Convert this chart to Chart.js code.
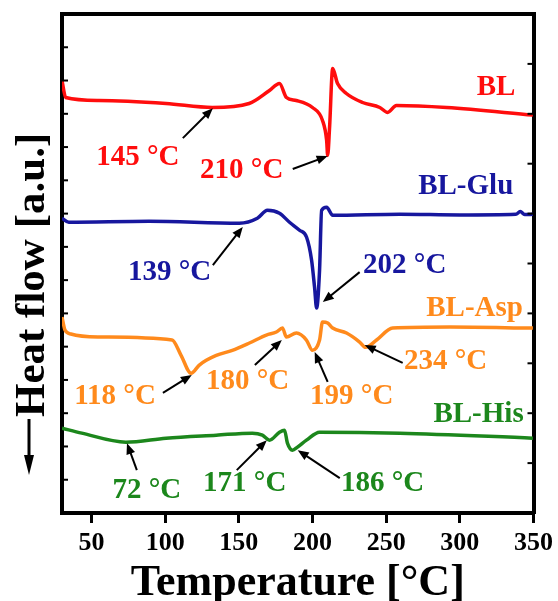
<!DOCTYPE html>
<html>
<head>
<meta charset="utf-8">
<script src="https://cdn.jsdelivr.net/npm/chart.js@4.4.0/dist/chart.umd.min.js"></script>
<style>
  body { margin: 0; background: #fff; }
</style>
</head>
<body>
<canvas id="myChart" width="558" height="601"></canvas>
<script>
// DSC curves, temperature in °C, heat flow in a.u. (curves stacked with offsets)
var blTemp = [30, 32.5, 55, 100.6, 132, 157, 170.8, 177.6, 182.3, 189, 200, 206.8, 209.6, 210.3, 211.6, 213.7, 217, 223, 234, 245.7, 251, 257, 291, 349.6];
var blFlow = [13.0, 12.49, 12.40, 12.31, 12.19, 12.31, 12.70, 12.91, 12.49, 12.40, 12.19, 11.80, 11.20, 10.75, 11.59, 13.36, 12.91, 12.61, 12.34, 12.19, 12.04, 12.25, 12.19, 11.96];

var gluTemp = [30, 34.6, 89, 150.3, 162.6, 169.4, 177.6, 184.4, 191.2, 196, 199.4, 201.4, 202.8, 204.8, 206.2, 209.6, 213.7, 259.3, 300, 338, 341, 344, 349.6];
var gluFlow = [8.86, 8.74, 8.77, 8.71, 8.86, 9.10, 9.01, 8.74, 8.50, 8.29, 7.60, 6.79, 6.16, 7.30, 9.10, 9.19, 8.95, 8.98, 8.96, 8.98, 9.06, 8.97, 8.98];

var aspTemp = [30, 32, 36, 55, 104.7, 110.8, 117.6, 123, 127.9, 134.7, 145.6, 157.2, 168.7, 175.5, 179.6, 182.3, 189.1, 195.9, 200, 204.8, 206.8, 210.3, 213.7, 223.1, 232, 236, 243.5, 254.4, 293.3, 349.6];
var aspFlow = [5.89, 5.50, 5.38, 5.29, 5.20, 4.74, 4.20, 4.44, 4.59, 4.74, 4.89, 5.11, 5.35, 5.44, 5.56, 5.29, 5.41, 5.20, 4.89, 5.20, 5.74, 5.71, 5.56, 5.41, 5.14, 4.98, 5.20, 5.56, 5.59, 5.56];

var hisTemp = [30, 43.4, 73.4, 100.6, 134.7, 159.2, 166, 170.8, 177.6, 181, 183, 186.4, 189.8, 195.9, 204.8, 259.3, 349.6];
var hisFlow = [2.55, 2.40, 2.13, 2.25, 2.34, 2.40, 2.34, 2.19, 2.43, 2.49, 2.10, 1.89, 1.98, 2.19, 2.43, 2.40, 2.25];

var xTicks = [50, 100, 150, 200, 250, 300, 350];

var red = '#ff0d0d', blue = '#17179e', orange = '#ff8a1c', green = '#1c871c';
var serif = "'Liberation Serif', 'Times New Roman', serif";

// text labels: [text, temp, flow, color]
var notes = [
    ['BL', 324.6, 12.80, red],
    ['145 °C', 81.5, 10.70, red],
    ['210 °C', 152, 10.31, red],
    ['BL-Glu', 304, 9.80, blue],
    ['139 °C', 103, 7.24, blue],
    ['202 °C', 262.6, 7.45, blue],
    ['BL-Asp', 310, 6.16, orange],
    ['118 °C', 66, 3.49, orange],
    ['180 °C', 156, 3.94, orange],
    ['199 °C', 226.6, 3.49, orange],
    ['234 °C', 290.3, 4.54, orange],
    ['BL-His', 312.7, 2.95, green],
    ['72 °C', 87.6, 0.69, green],
    ['171 °C', 154, 0.90, green],
    ['186 °C', 247.6, 0.90, green]
];
// arrows: [fromTemp, fromFlow, toTemp, toFlow]
var arrows = [
    [112, 11.27, 132.4, 12.17],
    [186.6, 10.34, 210.3, 10.73],
    [132.4, 7.45, 152.7, 8.60],
    [232, 7.24, 207, 6.34],
    [98.5, 3.61, 118.1, 4.15],
    [160.9, 4.45, 179.2, 5.20],
    [210.3, 3.94, 201.5, 4.84],
    [261.2, 4.51, 235.4, 5.05],
    [80.8, 1.29, 74.1, 2.10],
    [148.6, 1.29, 169, 2.19],
    [218.5, 1.05, 190, 1.89]
];

function pts(t, v) {
    return t.map(function (x, i) { return { x: x, y: v[i] }; });
}
function line(label, t, v, c) {
    return {
        label: label,
        data: pts(t, v),
        borderColor: c,
        borderWidth: 3.5,
        pointRadius: 0,
        fill: false,
        cubicInterpolationMode: 'monotone'
    };
}

var notesPlugin = {
    id: 'notes',
    afterDatasetsDraw: function (chart) {
        var ctx = chart.ctx, xs = chart.scales.x, ys = chart.scales.y, ys2 = chart.scales.y2;
        var a = chart.chartArea;
        ctx.save();
        // inner ticks on left and right frame
        ctx.strokeStyle = '#000';
        ctx.lineWidth = 2;
        ys.ticks.forEach(function (t) {
            var p = ys.getPixelForValue(t.value);
            ctx.beginPath(); ctx.moveTo(a.left, p); ctx.lineTo(a.left + 6, p); ctx.stroke();
        });
        ys2.ticks.forEach(function (t) {
            var p = ys2.getPixelForValue(t.value);
            ctx.beginPath(); ctx.moveTo(a.right, p); ctx.lineTo(a.right - 6, p); ctx.stroke();
        });
        // arrows
        ctx.fillStyle = '#000';
        arrows.forEach(function (r) {
            var x1 = xs.getPixelForValue(r[0]), y1 = ys.getPixelForValue(r[1]);
            var x2 = xs.getPixelForValue(r[2]), y2 = ys.getPixelForValue(r[3]);
            var ang = Math.atan2(y2 - y1, x2 - x1);
            ctx.lineWidth = 2;
            ctx.beginPath();
            ctx.moveTo(x1, y1);
            ctx.lineTo(x2 - 8 * Math.cos(ang), y2 - 8 * Math.sin(ang));
            ctx.stroke();
            ctx.beginPath();
            ctx.moveTo(x2, y2);
            ctx.lineTo(x2 - 11 * Math.cos(ang) + 4.5 * Math.sin(ang), y2 - 11 * Math.sin(ang) - 4.5 * Math.cos(ang));
            ctx.lineTo(x2 - 11 * Math.cos(ang) - 4.5 * Math.sin(ang), y2 - 11 * Math.sin(ang) + 4.5 * Math.cos(ang));
            ctx.closePath();
            ctx.fill();
        });
        // labels
        ctx.font = 'bold 29px ' + serif;
        ctx.textAlign = 'center';
        ctx.textBaseline = 'middle';
        notes.forEach(function (n) {
            ctx.fillStyle = n[3];
            ctx.fillText(n[0], xs.getPixelForValue(n[1]), ys.getPixelForValue(n[2]));
        });
        // y axis title with downward arrow
        var tx = 31, ty = a.bottom - 96;
        ctx.fillStyle = '#000';
        ctx.save();
        ctx.translate(tx, ty);
        ctx.rotate(-Math.PI / 2);
        ctx.font = 'bold 43px ' + serif;
        ctx.textAlign = 'left';
        ctx.fillText('Heat flow [a.u.]', 0, 2);
        ctx.restore();
        ctx.lineWidth = 3;
        ctx.beginPath(); ctx.moveTo(tx - 2, ty + 2); ctx.lineTo(tx - 2, ty + 44); ctx.stroke();
        ctx.beginPath();
        ctx.moveTo(tx - 2, ty + 58);
        ctx.lineTo(tx - 7, ty + 38);
        ctx.lineTo(tx + 3, ty + 38);
        ctx.closePath();
        ctx.fill();
        ctx.restore();
    }
};

var ctx = document.getElementById('myChart').getContext('2d');
var myChart = new Chart(ctx, {
    type: 'line',
    data: {
        datasets: [
            line('BL', blTemp, blFlow, red),
            line('BL-Glu', gluTemp, gluFlow, blue),
            line('BL-Asp', aspTemp, aspFlow, orange),
            line('BL-His', hisTemp, hisFlow, green)
        ]
    },
    options: {
        responsive: false,
        animation: false,
        layout: { padding: 0 },
        plugins: {
            legend: { display: false },
            tooltip: { enabled: false }
        },
        scales: {
            x: {
                type: 'linear',
                position: 'bottom',
                min: 30,
                max: 350,
                afterBuildTicks: function (s) {
                    s.ticks = xTicks.map(function (v) { return { value: v }; });
                },
                ticks: {
                    color: '#000',
                    font: { family: serif, size: 26, weight: 'bold' },
                    padding: 5,
                    maxRotation: 0
                },
                grid: { drawOnChartArea: false, tickLength: 10, lineWidth: 3, color: '#000' },
                border: { color: '#000', width: 4 },
                title: {
                    display: true,
                    text: 'Temperature [°C]',
                    color: '#000',
                    font: { family: serif, size: 44, weight: 'bold', lineHeight: 0.78 },
                    padding: 0
                },
                afterFit: function (s) { s.height = 88; }
            },
            x2: {
                type: 'linear',
                position: 'top',
                min: 30,
                max: 350,
                ticks: { display: false },
                grid: { display: false },
                border: { color: '#000', width: 4 },
                afterFit: function (s) { s.height = 14; }
            },
            y: {
                type: 'linear',
                position: 'left',
                min: 0,
                max: 15,
                ticks: { display: false, stepSize: 1 },
                grid: { display: false },
                border: { color: '#000', width: 4 },
                afterFit: function (s) { s.width = 62; }
            },
            y2: {
                type: 'linear',
                position: 'right',
                min: 0,
                max: 10,
                ticks: { display: false, stepSize: 1 },
                grid: { display: false },
                border: { color: '#000', width: 4 },
                afterFit: function (s) { s.width = 24; }
            }
        }
    },
    plugins: [notesPlugin]
});
</script>
</body>
</html>
